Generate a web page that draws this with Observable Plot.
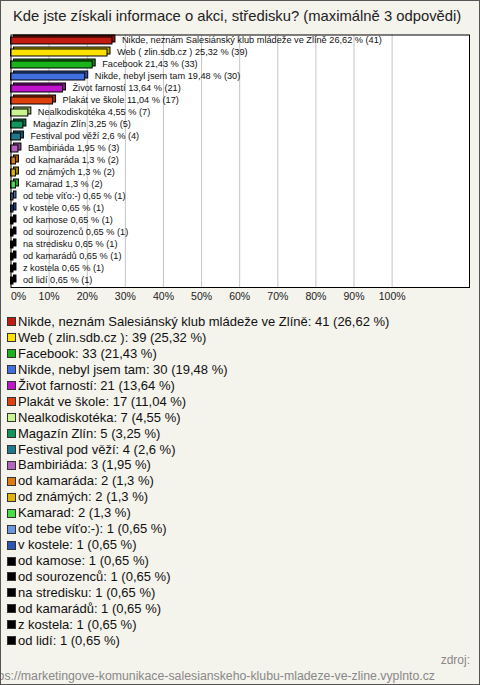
<!DOCTYPE html>
<html><head><meta charset="utf-8">
<script src="https://cdn.jsdelivr.net/npm/d3@7"></script>
<script src="https://cdn.jsdelivr.net/npm/@observablehq/plot@0.6"></script>
<style>
html,body{margin:0;padding:0;}
body{width:480px;height:685px;position:relative;background:#f4f3ec;font-family:"Liberation Sans",Arial,sans-serif;overflow:hidden;}
#border{position:absolute;left:0;top:0;width:478px;height:683px;border:1px solid #555;pointer-events:none;}
#title{position:absolute;left:13px;top:8px;font-size:14.8px;color:#222;white-space:nowrap;}
#chart{position:absolute;left:0;top:0;}
#legend{position:absolute;left:7px;top:314px;font-size:13px;color:#111;}
.item{height:15.95px;line-height:15.95px;white-space:nowrap;display:flex;align-items:center;}
.sw{width:7px;height:7px;border:1px solid #333;margin-right:2px;flex:none;}
#zdroj{position:absolute;right:10px;top:653px;font-size:12px;color:#888;}
#url{position:absolute;right:45px;top:669px;font-size:12.3px;color:#888;white-space:nowrap;}
</style></head><body>
<div id="chart"></div>
<div id="title">Kde jste získali informace o akci, středisku? (maximálně 3 odpovědi)</div>
<div id="legend"></div>
<div id="zdroj">zdroj:</div>
<div id="url">https://marketingove-komunikace-salesianskeho-klubu-mladeze-ve-zline.vyplnto.cz</div>
<div id="border"></div>
<script>
const labels = [
  "Nikde, neznám Salesiánský klub mládeže ve Zlíně",
  "Web ( zlin.sdb.cz )",
  "Facebook",
  "Nikde, nebyl jsem tam",
  "Život farností",
  "Plakát ve škole",
  "Nealkodiskotéka",
  "Magazín Zlín",
  "Festival pod věží",
  "Bambiriáda",
  "od kamaráda",
  "od známých",
  "Kamarad",
  "od tebe víťo:-)",
  "v kostele",
  "od kamose",
  "od sourozenců",
  "na stredisku",
  "od kamarádů",
  "z kostela",
  "od lidí"
];
const counts = [41, 39, 33, 30, 21, 17, 7, 5, 4, 3, 2, 2, 2, 1, 1, 1, 1, 1, 1, 1, 1];
const percents = [26.62, 25.32, 21.43, 19.48, 13.64, 11.04, 4.55, 3.25, 2.6, 1.95, 1.3, 1.3, 1.3, 0.65, 0.65, 0.65, 0.65, 0.65, 0.65, 0.65, 0.65];
const colors = ["#c31a12", "#fde200", "#19b419", "#4070e0", "#c015cc", "#e0400c", "#c8f590", "#10965a", "#1c7a8c", "#b463be", "#e07a14", "#e0b40a", "#44e044", "#6a96e0", "#2a55b4", "#000000", "#000000", "#000000", "#000000", "#000000", "#000000"];
const xTicks = [0, 10, 20, 30, 40, 50, 60, 70, 80, 90, 100];

const fmt = v => String(v).replace(".", ",");
const data = labels.map((l, i) => ({
  label: l, n: counts[i], pct: percents[i], color: colors[i],
  dark: d3.color(colors[i]).darker(0.9).formatHex()
}));

const FONT = '"Liberation Sans", Arial, sans-serif';
const chart = Plot.plot({
  width: 480, height: 305,
  marginTop: 34.5, marginBottom: 18, marginLeft: 10.5, marginRight: 11,
  x: {domain: [0, 120.3], axis: null},
  y: {domain: labels, axis: null, paddingInner: 0.45, paddingOuter: 0.225},
  color: {type: "identity"},
  style: {fontFamily: FONT, background: "transparent", color: "#111"},
  marks: [
    Plot.frame({fill: "white", stroke: "none"}),
    Plot.ruleX(xTicks.filter(d => d > 0), {stroke: "#c4c4c4"}),
    Plot.barX(data, {x: "pct", y: "label", fill: "dark", stroke: "#000", strokeWidth: 1, dx: 3, dy: -2}),
    Plot.barX(data, {x: "pct", y: "label", fill: "color", stroke: "#000", strokeWidth: 1}),
    Plot.text(data, {x: "pct", y: "label", text: d => `${d.label} ${fmt(d.pct)} % (${d.n})`, textAnchor: "start", dx: 9.5, dy: -0.5, fontSize: 9.2, fill: "#111"}),
    Plot.frame({stroke: "#000", strokeWidth: 1}),
    Plot.text(xTicks.filter(d => d === 0), {x: d => d, text: d => d + "%", frameAnchor: "bottom", dy: 12, textAnchor: "start", fontSize: 10.5, fill: "#222"}),
    Plot.text(xTicks.filter(d => d > 0), {x: d => d, text: d => d + "%", frameAnchor: "bottom", dy: 12, fontSize: 10.5, fill: "#222"})
  ]
});
document.getElementById("chart").appendChild(chart);

const leg = document.getElementById("legend");
data.forEach(d => {
  const it = document.createElement("div");
  it.className = "item";
  const sw = document.createElement("span");
  sw.className = "sw";
  sw.style.background = d.color;
  it.appendChild(sw);
  const t = document.createElement("span");
  t.textContent = `${d.label}: ${d.n} (${fmt(d.pct)} %)`;
  it.appendChild(t);
  leg.appendChild(it);
});
</script>
</body></html>
